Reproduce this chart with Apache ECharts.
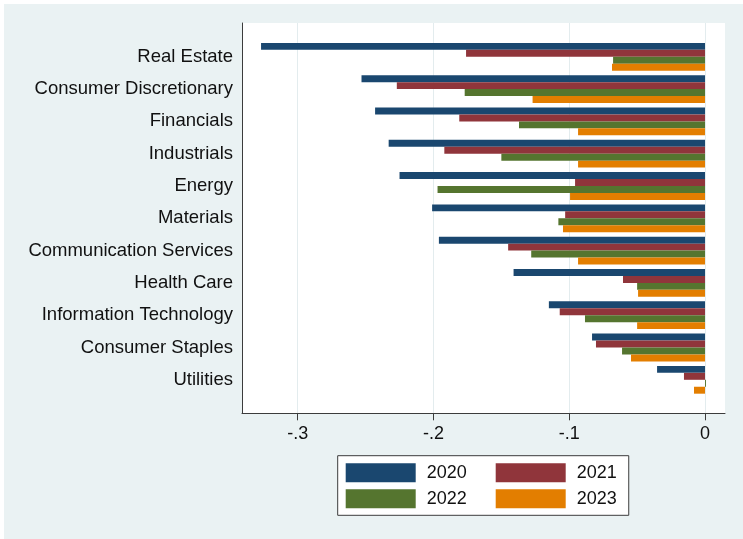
<!DOCTYPE html>
<html><head><meta charset="utf-8">
<script src="https://cdn.jsdelivr.net/npm/echarts@6/dist/echarts.min.js"></script>
<style>
html,body{margin:0;padding:0;background:#fff;}
#bg{position:absolute;left:4px;top:4px;width:739px;height:535px;background:#eaf2f3;}
#chart{position:absolute;left:0;top:0;width:743px;height:539px;}
</style></head><body><div id="bg"></div><div id="chart"></div>
<script>
const categories = ['Real Estate','Consumer Discretionary','Financials','Industrials','Energy','Materials','Communication Services','Health Care','Information Technology','Consumer Staples','Utilities'];
const years = ['2020','2021','2022','2023'];
const v2020 = [-0.327,-0.253,-0.243,-0.233,-0.225,-0.201,-0.196,-0.141,-0.115,-0.0832,-0.0353];
const v2021 = [-0.176,-0.227,-0.181,-0.192,-0.0957,-0.103,-0.145,-0.0604,-0.107,-0.0803,-0.0155];
const v2022 = [-0.0677,-0.177,-0.137,-0.150,-0.197,-0.108,-0.128,-0.050,-0.0884,-0.0611,0.0007];
const v2023 = [-0.0685,-0.127,-0.0935,-0.0935,-0.0994,-0.1046,-0.0935,-0.0493,-0.050,-0.0545,-0.0081];
const tickValues = [-0.3,-0.2,-0.1,0];
const tickLabels = ['-.3','-.2','-.1','0'];
const colors = ['#1a476f','#90353b','#55752f','#e37e00'];
const XMIN = -0.34103, XMAX = 0.01473;
const FONT = 'Liberation Sans, Arial, sans-serif';

const chart = echarts.init(document.getElementById('chart'));
const seriesVals = [v2020, v2021, v2022, v2023];
chart.setOption({
  backgroundColor: 'transparent',
  animation: false,
  textStyle: {fontFamily: FONT},
  grid: [
    {left: 242, right: 18, top: 40.65, bottom: 143.05, containLabel: false},
    {left: 242, right: 18, top: 23, bottom: 125.7, show: true, backgroundColor: '#ffffff', borderWidth: 0, containLabel: false}
  ],
  xAxis: [
    {gridIndex: 0, type: 'value', min: XMIN, max: XMAX, show: false},
    {gridIndex: 1, type: 'value', min: XMIN, max: XMAX,
     axisLine: {show: true, onZero: false, lineStyle: {color: '#3c3c3c', width: 1}},
     axisTick: {show: true, length: 7, customValues: tickValues, lineStyle: {color: '#3c3c3c', width: 1}},
     axisLabel: {customValues: tickValues, fontSize: 18, color: '#111', margin: 12, fontFamily: FONT,
       formatter: v => { const i = tickValues.findIndex(t => Math.abs(t - v) < 1e-9); return i >= 0 ? tickLabels[i] : ''; }},
     splitLine: {show: true, customValues: tickValues, lineStyle: {color: '#e3ecee', width: 1}}
    }
  ],
  yAxis: [
    {gridIndex: 0, type: 'category', data: categories, inverse: true,
     axisLine: {show: false}, axisTick: {show: false},
     axisLabel: {fontSize: 18.5, color: '#111', margin: 9, fontFamily: FONT, padding: [4, 0, 0, 0]}},
    {gridIndex: 1, type: 'value', min: 0, max: 1,
     axisLine: {show: true, onZero: false, lineStyle: {color: '#3c3c3c', width: 1}},
     axisTick: {show: false}, axisLabel: {show: false}, splitLine: {show: false}}
  ],
  legend: {
    left: 337.7, top: 455.7, width: 285,
    orient: 'horizontal',
    padding: [7.6, 12, 7, 8],
    itemGap: 7, itemWidth: 70, itemHeight: 19,
    backgroundColor: '#ffffff', borderColor: '#3c3c3c', borderWidth: 1, borderRadius: 0,
    icon: 'rect',
    textStyle: {fontSize: 18, color: '#111', fontFamily: FONT, lineHeight: 19},
    data: years.map((y, i) => ({name: y, textStyle: (i % 2 === 0) ? {width: 62, padding: [0, 0, 0, 6]} : {width: 40, padding: [0, 0, 0, 6]}}))
  },
  series: years.map((y, i) => ({
    name: y, type: 'bar', xAxisIndex: 0, yAxisIndex: 0,
    data: seriesVals[i],
    barGap: '0%', barCategoryGap: '14%',
    itemStyle: {color: colors[i]}
  }))
});
</script></body></html>
